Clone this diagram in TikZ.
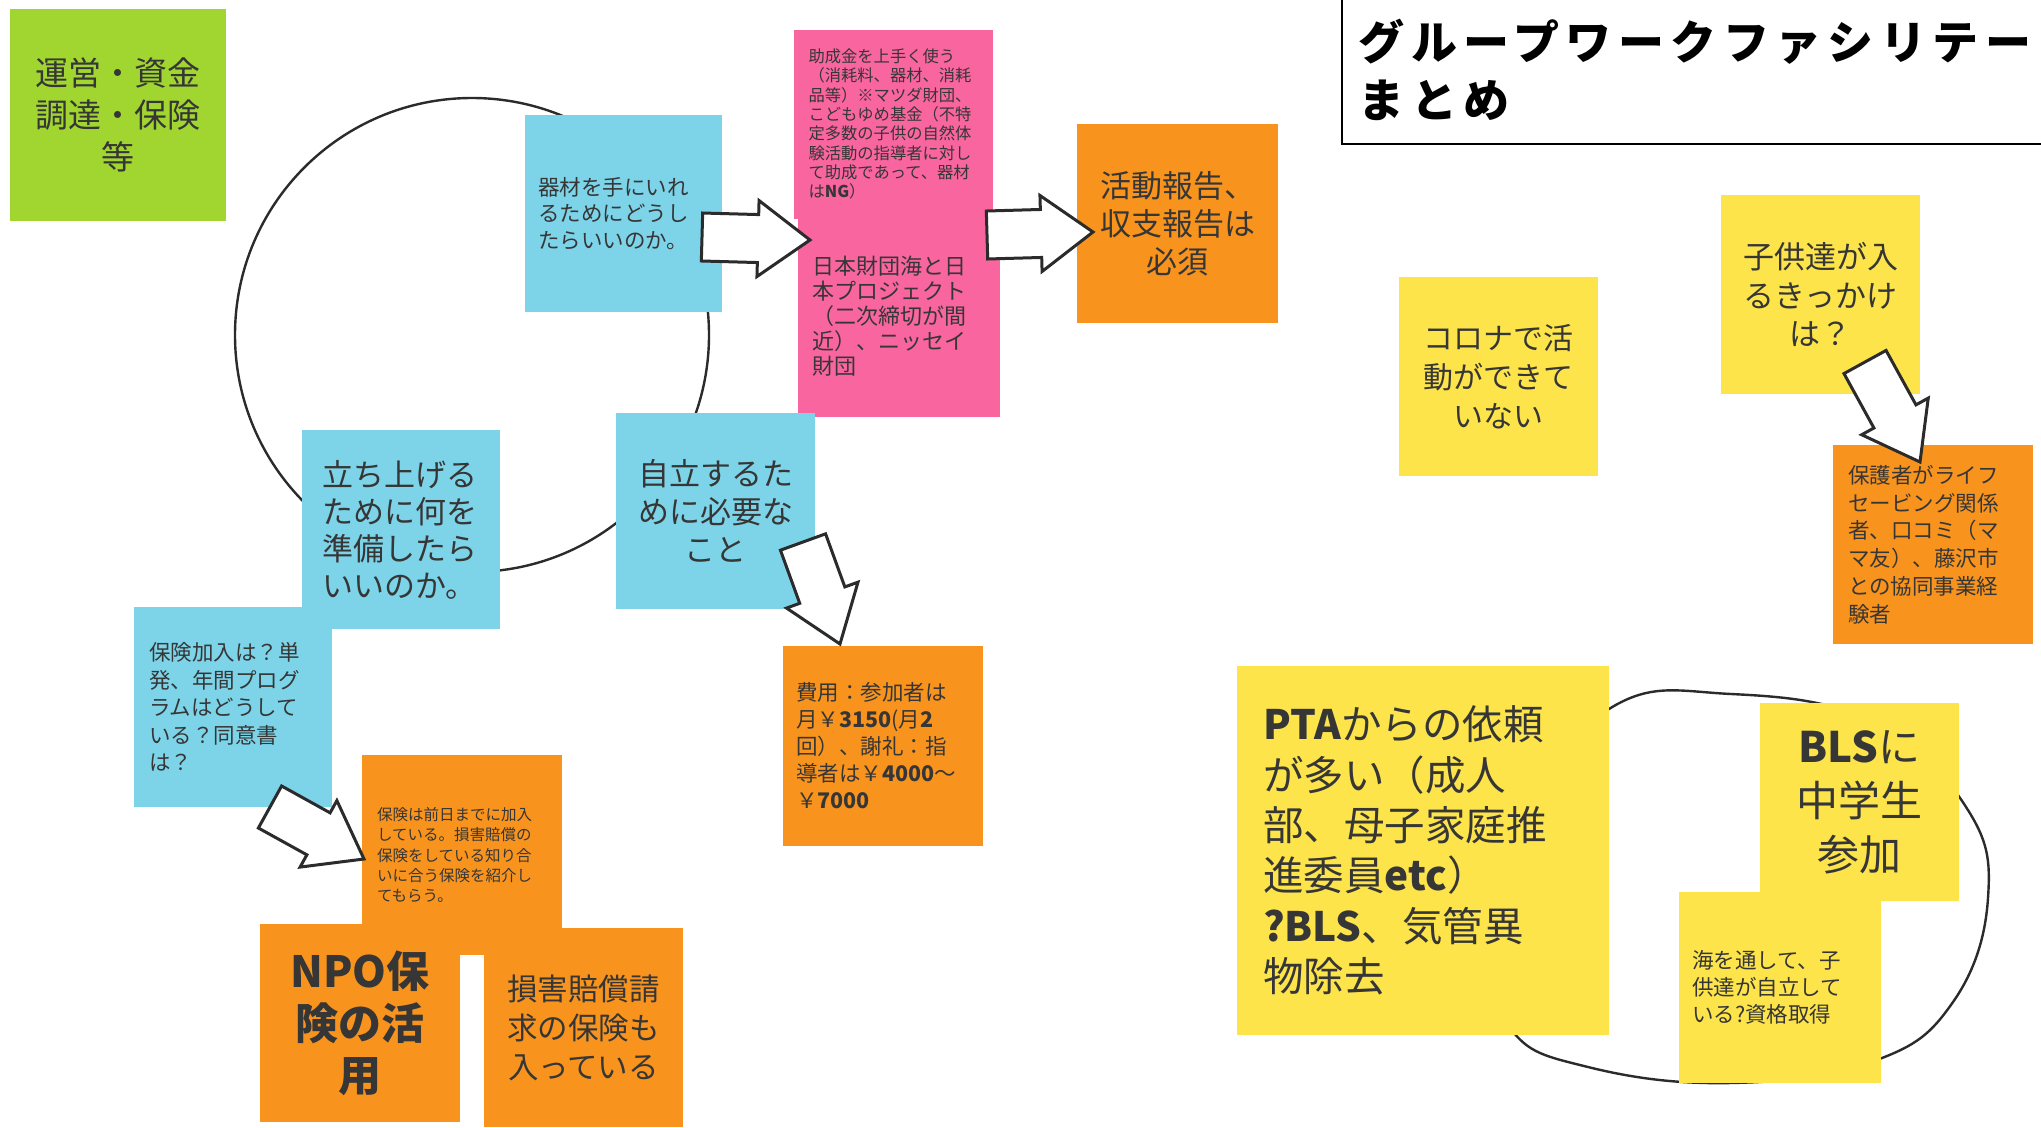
\documentclass[tikz,border=0pt]{standalone}
\usepackage{fontspec}
\setmainfont{Noto Sans CJK JP}
\usetikzlibrary{calc}
\definecolor{nblue}{HTML}{7DD4E9}
\definecolor{norange}{HTML}{F8941D}
\definecolor{nyellow}{HTML}{FDE44A}
\definecolor{npink}{HTML}{F8659F}
\definecolor{ngreen}{HTML}{A1D630}
\definecolor{ntext}{HTML}{363636}
\definecolor{nline}{HTML}{2B2B2B}
\tikzset{
  note/.style={rectangle, inner sep=0pt, outer sep=0pt, text=ntext},
  fnt/.style 2 args={font=\fontsize{#1}{#2}\selectfont},
  fntb/.style 2 args={font=\fontsize{#1}{#2}\selectfont\bfseries},
  barrow/.style={draw=nline, line width=3pt, fill=white, line join=miter},
  loop/.style={draw=nline, line width=2.4pt},
}
\newcommand\blockarr[2]{%
  \path let \p1=($(#2)-(#1)$) in \pgfextra{%
    \pgfmathsetmacro\baang{atan2(\y1,\x1)}%
    \pgfmathsetmacro\balen{veclen(\x1,\y1)}%
    \xdef\baang{\baang}\xdef\balen{\balen}};
  \begin{scope}[shift={(#1)}, rotate=\baang, x=1pt, y=1pt]
    \draw[barrow] (0,-24) -- ({\balen-52},-24) -- ({\balen-52},-38) -- (\balen,0)
      -- ({\balen-52},38) -- ({\balen-52},24) -- (0,24) -- cycle;
  \end{scope}}
\begin{document}
\begin{tikzpicture}[x=1pt, y=-1pt]
\useasboundingbox (0,0) rectangle (2041,1127);
\fill[white] (0,0) rectangle (2041,1127);

% loops
\draw[loop] (472,335) circle[radius=237pt];
\draw[loop] plot[smooth cycle, tension=0.7] coordinates {(1510,833) (1609,709) (1731,694) (1874,722) (1966,807) (1988,898) (1953,1002) (1874,1061) (1731,1083) (1588,1067) (1510,1028) (1491,937)};

% left group
\node[note, fill=ngreen, minimum width=216pt, minimum height=212pt, align=center, fnt={33}{42}] (unei) at (118,115) {運営・資金\\調達・保険\\等};

\node[note, fill=nblue, minimum width=197pt, minimum height=197pt, text width=171pt, align=left, fnt={21.5}{26.5}] (kizai) at (623.5,213.5) {器材を手にいれ\\るためにどうし\\たらいいのか。};

\node[note, fill=npink, minimum width=199pt, minimum height=189pt, text width=170pt, align=left, fnt={16.3}{19.3}] (josei) at (893.5,124) {助成金を上手く使う\\（消耗料、器材、消耗\\品等）※マツダ財団、\\こどもゆめ基金（不特\\定多数の子供の自然体\\験活動の指導者に対し\\て助成であって、器材\\は{\bfseries NG}）};

\node[note, fill=npink, minimum width=202pt, minimum height=202pt, text width=174pt, align=left, fnt={22}{25}] (zaidan) at (899,316) {日本財団海と日\\本プロジェクト\\（二次締切が間\\近）、ニッセイ\\財団};

\node[note, fill=norange, minimum width=201pt, minimum height=199pt, align=center, fnt={31}{38}] (hokoku) at (1177.5,223.5) {活動報告、\\収支報告は\\必須};

\node[note, fill=nblue, minimum width=198pt, minimum height=200pt, text width=168pt, align=left, fnt={21.5}{27.5}] (kanyu) at (233,707) {保険加入は？単\\発、年間プログ\\ラムはどうして\\いる？同意書\\は？};

\node[note, fill=nblue, minimum width=198pt, minimum height=199pt, text width=158pt, align=left, fnt={31}{37}] (tachiage) at (401,529.5) {立ち上げる\\ために何を\\準備したら\\いいのか。};

\node[note, fill=nblue, minimum width=199pt, minimum height=196pt, align=center, fnt={31}{38}] (jiritsu) at (715.5,511) {自立するた\\めに必要な\\こと};

\node[note, fill=norange, minimum width=200pt, minimum height=200pt, text width=174pt, align=left, fnt={21.5}{27}] (hiyou) at (883,746) {費用：参加者は\\月￥{\bfseries 3150}(月{\bfseries 2}\\回）、謝礼：指\\導者は￥{\bfseries 4000}〜\\￥{\bfseries 7000}};

\node[note, fill=norange, minimum width=200pt, minimum height=200pt, text width=170pt, align=left, fnt={15.5}{20.3}] (maebi) at (462,855) {保険は前日までに加入\\している。損害賠償の\\保険をしている知り合\\いに合う保険を紹介し\\てもらう。};

\node[note, fill=norange, minimum width=200pt, minimum height=198pt, align=center, fntb={43}{52}] (npo) at (360,1023) {NPO保\\険の活\\用};

\node[note, fill=norange, minimum width=199pt, minimum height=199pt, align=center, fnt={30.5}{39}] (songai) at (583.5,1027.5) {損害賠償請\\求の保険も\\入っている};

% title
\node[draw=black, line width=1.5pt, fill=white, anchor=north west, minimum width=730pt, minimum height=148pt, text width=700pt, inner xsep=17pt, align=left, fnt={46}{58}] (title) at (1341,-5) {\bfseries\addfontfeatures{LetterSpace=14}グループワークファシリテー\\まとめ};

% right group
\node[note, fill=nyellow, minimum width=199pt, minimum height=199pt, align=center, fnt={30}{39}] (corona) at (1498.5,376.5) {コロナで活\\動ができて\\いない};

\node[note, fill=nyellow, minimum width=199pt, minimum height=199pt, align=center, fnt={31}{38.5}] (kodomo) at (1820.5,294.5) {子供達が入\\るきっかけ\\は？};

\node[note, fill=norange, minimum width=200pt, minimum height=199pt, text width=170pt, align=left, fnt={21.5}{27.8}] (hogosha) at (1933,544.5) {保護者がライフ\\セービング関係\\者、口コミ（マ\\マ友）、藤沢市\\との協同事業経\\験者};

\node[note, fill=nyellow, minimum width=372pt, minimum height=369pt, text width=320pt, align=left, fnt={40.5}{50.4}] (pta) at (1423,850.5) {{\bfseries PTA}からの依頼\\が多い（成人\\部、母子家庭推\\進委員{\bfseries etc}）\\{\bfseries ?BLS}、気管異\\物除去};

\node[note, fill=nyellow, minimum width=199pt, minimum height=198pt, align=center, fnt={42}{54}] (bls) at (1859.5,802) {{\bfseries BLS}に\\中学生\\参加};

\node[note, fill=nyellow, minimum width=202pt, minimum height=191pt, text width=176pt, align=left, fnt={21.5}{27}] (umi) at (1780,987.5) {海を通して、子\\供達が自立して\\いる?資格取得};

% block arrows
\coordinate (a1s) at (702,237);  \coordinate (a1e) at (810,240);
\coordinate (a2s) at (987,235);  \coordinate (a2e) at (1093,232);
\coordinate (a3s) at (803,542);  \coordinate (a3e) at (840,644);
\coordinate (a4s) at (270,807);  \coordinate (a4e) at (364,859);
\coordinate (a5s) at (1865,362); \coordinate (a5e) at (1920,462);
\blockarr{a1s}{a1e}
\blockarr{a2s}{a2e}
\blockarr{a3s}{a3e}
\blockarr{a4s}{a4e}
\blockarr{a5s}{a5e}
\end{tikzpicture}
\end{document}
